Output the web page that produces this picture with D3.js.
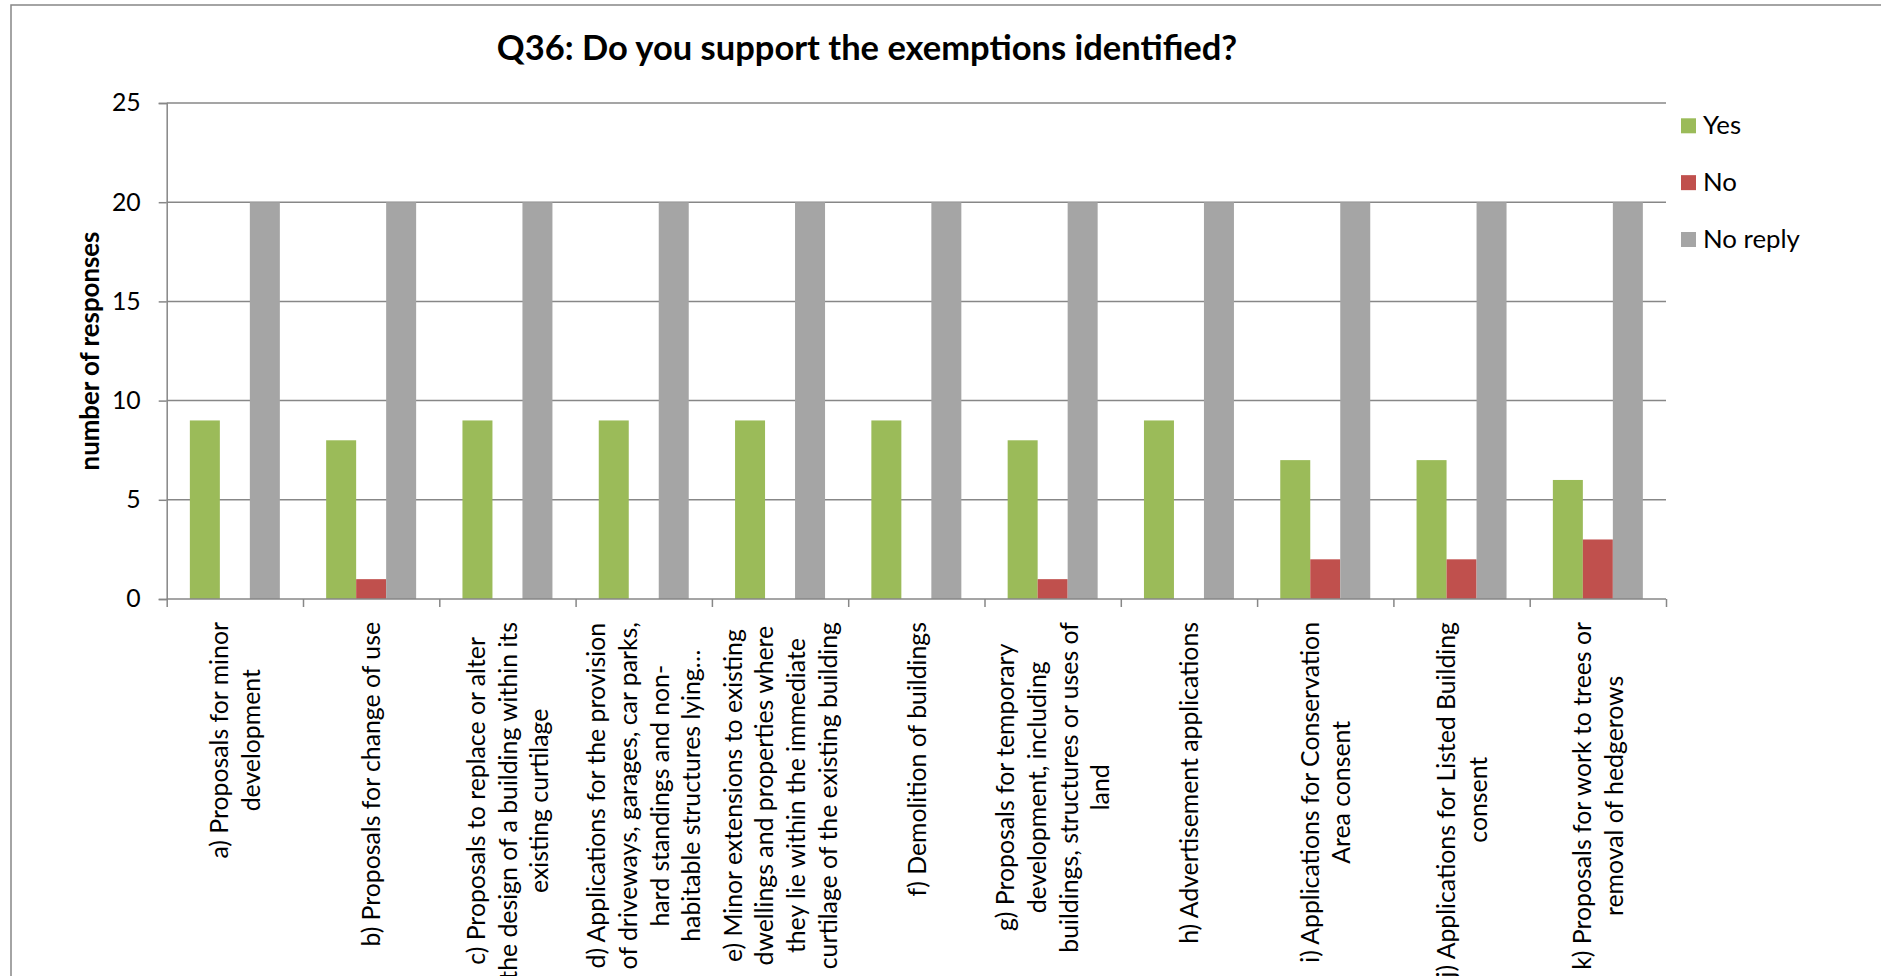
<!DOCTYPE html>
<html>
<head>
<meta charset="utf-8">
<script src="https://cdn.jsdelivr.net/npm/d3@7/dist/d3.min.js"></script>
<style>
  html, body { margin: 0; padding: 0; background: #ffffff; overflow: hidden; }
  svg { display: block; }
</style>
</head>
<body>
<svg id="chart" width="1881" height="976"></svg>
<script>
// Exemption categories (line breaks as shown under each group)
const categories = [
  "a) Proposals for minor\ndevelopment",
  "b) Proposals for change of use",
  "c) Proposals to replace or alter\nthe design of a building within its\nexisting curtilage",
  "d) Applications for the provision\nof driveways, garages, car parks,\nhard standings and non-\nhabitable structures lying…",
  "e) Minor extensions to existing\ndwellings and properties where\nthey lie within the immediate\ncurtilage of the existing building",
  "f) Demolition of buildings",
  "g) Proposals for temporary\ndevelopment, including\nbuildings, structures or uses of\nland",
  "h) Advertisement applications",
  "i) Applications for Conservation\nArea consent",
  "j) Applications for Listed Building\nconsent",
  "k) Proposals for work to trees or\nremoval of hedgerows"
];

const seriesNames = ["Yes", "No", "No reply"];
const yesValues     = [9, 8, 9, 9, 9, 9, 8, 9, 7, 7, 6];
const noValues      = [0, 1, 0, 0, 0, 0, 1, 0, 2, 2, 3];
const noReplyValues = [20, 20, 20, 20, 20, 20, 20, 20, 20, 20, 20];
const seriesColors  = ["#9bbb59", "#c0504d", "#a5a5a5"];
const yTicks = [0, 5, 10, 15, 20, 25];

const chartTitle = "Q36: Do you support the exemptions identified?";
const yAxisTitle = "number of responses";

const seriesValues = [yesValues, noValues, noReplyValues];
const rows = categories.map((c, i) => ({
  category: c,
  values: seriesNames.map((s, k) => ({ series: s, value: seriesValues[k][i] }))
}));

const FONT = "Lato, 'Liberation Sans', sans-serif";
const LABEL_SIZE = 24.8;
const LINE_H = 31.7;
const GRID = "#878787";

const svg = d3.select("#chart");

// Outer chart frame (right and bottom edges run past the page)
svg.append("rect")
  .attr("x", 11).attr("y", 5)
  .attr("width", 1960).attr("height", 1100)
  .attr("fill", "#ffffff")
  .attr("stroke", GRID).attr("stroke-width", 1.5);

const plot = { left: 166.7, right: 1666, top: 103, bottom: 599 };

const x0 = d3.scaleBand()
  .domain(categories)
  .range([plot.left, plot.right])
  .paddingInner(0).paddingOuter(0);

const x1 = d3.scaleBand()
  .domain(seriesNames)
  .range([0, x0.bandwidth()])
  .paddingInner(0).paddingOuter(0.772);

const y = d3.scaleLinear()
  .domain([0, 25])
  .range([plot.bottom, plot.top]);

const color = d3.scaleOrdinal().domain(seriesNames).range(seriesColors);

// Horizontal gridlines
svg.append("g")
  .selectAll("line")
  .data(yTicks.filter(t => t > 0))
  .join("line")
  .attr("x1", plot.left).attr("x2", plot.right)
  .attr("y1", d => y(d)).attr("y2", d => y(d))
  .attr("stroke", GRID).attr("stroke-width", 1.5);

// Bars
svg.append("g")
  .selectAll("g")
  .data(rows)
  .join("g")
  .attr("transform", d => `translate(${x0(d.category)},0)`)
  .selectAll("rect")
  .data(d => d.values)
  .join("rect")
  .attr("x", d => x1(d.series))
  .attr("width", x1.bandwidth())
  .attr("y", d => y(d.value))
  .attr("height", d => y(0) - y(d.value))
  .attr("fill", d => color(d.series));

// Y axis
const yAxis = svg.append("g")
  .attr("transform", `translate(${plot.left},0)`)
  .call(d3.axisLeft(y).tickValues(yTicks).tickSize(8).tickPadding(18).tickFormat(d3.format("d")));
yAxis.select(".domain").attr("stroke", GRID).attr("stroke-width", 1.5);
yAxis.selectAll(".tick line").attr("stroke", GRID).attr("stroke-width", 1.5);
yAxis.selectAll(".tick text")
  .attr("font-family", FONT).attr("font-size", LABEL_SIZE).attr("fill", "#000");

// X axis (ticks at category boundaries, labels drawn separately)
const xBoundaries = categories.map(c => x0(c)).concat([plot.right]);
const xAxisScale = d3.scaleLinear().domain([plot.left, plot.right]).range([plot.left, plot.right]);
const xAxis = svg.append("g")
  .attr("transform", `translate(0,${plot.bottom})`)
  .call(d3.axisBottom(xAxisScale).tickValues(xBoundaries).tickSize(8).tickFormat(""));
xAxis.select(".domain").attr("stroke", GRID).attr("stroke-width", 1.5)
  .attr("d", `M${plot.left},0H${plot.right}`);
xAxis.selectAll(".tick line").attr("stroke", GRID).attr("stroke-width", 1.5);

// Rotated, multi-line category labels
const labelTop = 622;
const labels = svg.append("g").attr("font-family", FONT).attr("font-size", LABEL_SIZE).attr("fill", "#000");
categories.forEach(cat => {
  const lines = cat.split("\n");
  const n = lines.length;
  const cx = x0(cat) + x0.bandwidth() / 2;
  const g = labels.append("g");
  const texts = lines.map((ln, i) =>
    g.append("text")
      .attr("text-anchor", "middle")
      .attr("y", (i - (n - 1) / 2) * LINE_H + LABEL_SIZE * 0.37)
      .text(ln));
  const maxLen = d3.max(texts, t => t.node().getComputedTextLength());
  texts.forEach(t => t.attr("x", -maxLen / 2));
  g.attr("transform", `translate(${cx},${labelTop}) rotate(-90)`);
});

// Y axis title
svg.append("text")
  .attr("transform", `translate(99,${(plot.top + plot.bottom) / 2}) rotate(-90)`)
  .attr("text-anchor", "middle")
  .attr("font-family", FONT).attr("font-weight", "bold").attr("font-size", 25.8)
  .attr("fill", "#000")
  .text(yAxisTitle);

// Chart title
svg.append("text")
  .attr("x", 867).attr("y", 60)
  .attr("text-anchor", "middle")
  .attr("font-family", FONT).attr("font-weight", "bold").attr("font-size", 34.5)
  .attr("fill", "#000")
  .text(chartTitle);

// Legend
const legend = svg.append("g")
  .attr("font-family", FONT).attr("font-size", 25.8).attr("fill", "#000");
const legendY = d3.scalePoint().domain(seriesNames).range([125.8, 239.5]);
seriesNames.forEach(s => {
  legend.append("rect")
    .attr("x", 1681).attr("y", legendY(s) - 7.5)
    .attr("width", 15).attr("height", 15)
    .attr("fill", color(s));
  legend.append("text")
    .attr("x", 1703).attr("y", legendY(s) + 8.5)
    .text(s);
});
</script>
</body>
</html>
